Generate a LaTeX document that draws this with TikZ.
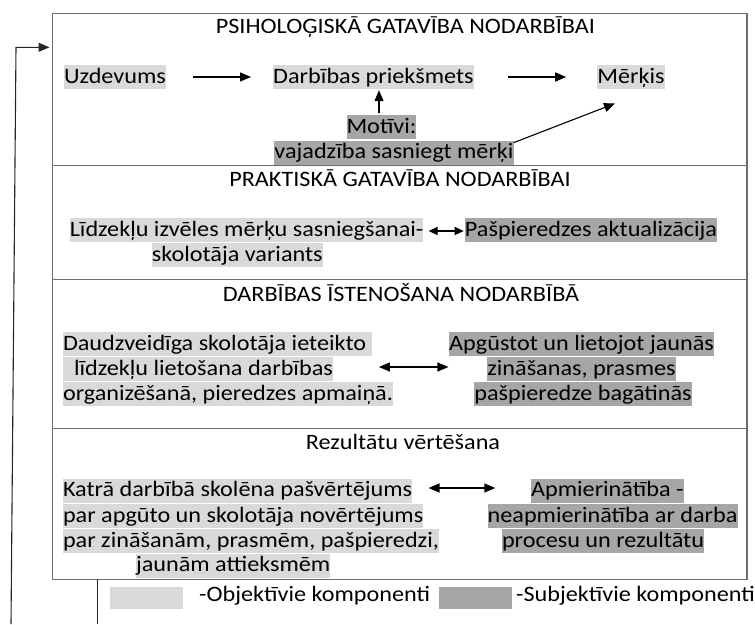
\documentclass[tikz,border=0pt]{standalone}
\usepackage{fontspec}
\setmainfont[FakeStretch=1.10]{Carlito}
\usetikzlibrary{arrows.meta}
\definecolor{objc}{HTML}{D9D9D9}
\definecolor{subjc}{HTML}{A6A6A6}
\definecolor{framec}{HTML}{6E6E6E}
\tikzset{
  txt/.style={inner xsep=0pt, inner ysep=0pt, text height=18pt, text depth=6pt,
    font=\fontsize{22pt}{25pt}\selectfont},
  obj/.style={txt, fill=objc},
  subj/.style={txt, fill=subjc},
  arr/.style={-{Triangle[length=11pt,width=9pt]}, line width=1.1pt},
  darr/.style={{Triangle[length=11pt,width=9pt]}-{Triangle[length=11pt,width=9pt]}, line width=1.1pt},
  darrs/.style={{Triangle[length=9pt,width=8pt]}-{Triangle[length=9pt,width=8pt]}, line width=1.1pt},
  frame/.style={draw=framec, line width=1.4pt},
  fbline/.style={draw=black!85, line width=1.1pt},
  swatch/.style={inner sep=0pt, minimum width=73pt, minimum height=22pt},
}
\begin{document}
\begin{tikzpicture}[x=1pt,y=-1pt]
\useasboundingbox (0,0) rectangle (755,624);
% frame and section dividers
\draw[frame] (52.7,13.3) rectangle (747,579.3);
\draw[frame] (52.7,165.7) -- (747,165.7);
\draw[frame] (52.7,279.3) -- (747,279.3);
\draw[frame] (52.7,428.3) -- (747,428.3);

% section 1
\node[txt] (t1) at (405.4,27.3) {PSIHOLOĢISKĀ GATAVĪBA NODARBĪBAI};
\node[obj] (uzd) at (115,77) {Uzdevums};
\node[obj] (darb) at (373.4,77) {Darbības priekšmets};
\node[obj] (merkis) at (631,77) {Mērķis};
\node[subj] (motivi) at (381.5,127.2) {Motīvi:};
\node[subj] (vaj) at (394,152.8) {vajadzība sasniegt mērķi};

\draw[arr, shorten <=27pt, shorten >=22pt] (uzd) -- (darb);
\draw[arr, shorten <=34.3pt, shorten >=31pt] (darb) -- (merkis);
\coordinate (upS) at ([xshift=-2.5pt,yshift=2.3pt]motivi.north);
\coordinate (upE) at (upS |- darb.south);
\draw[arr, shorten >=1pt] (upS) -- (upE);
\draw[arr] ([yshift=-2pt]vaj.north east) -- ([xshift=-16pt,yshift=-14.3pt]merkis.south);

% section 2
\node[txt] (t2) at (400,180.7) {PRAKTISKĀ GATAVĪBA NODARBĪBAI};
\node[obj, anchor=west] (l21) at (69.6,230.2) {Līdzekļu izvēles mērķu sasniegšanai-};
\node[obj, anchor=west] (l22) at (151.7,255.4) {skolotāja variants};
\node[subj] (r21) at (591,230.2) {Pašpieredzes aktualizācija};
\draw[darrs, shorten <=5pt, shorten >=1pt] ([yshift=-0.8pt]l21.east) -- ([yshift=-0.8pt]r21.west);

% section 3
\node[txt] (t3) at (401,295.7) {DARBĪBAS ĪSTENOŠANA NODARBĪBĀ};
\node[obj, anchor=west] (l31) at (62.8,344.2) {Daudzveidīga skolotāja ieteikto\ \mbox{}};
\node[obj, anchor=west] (l32) at (62.8,369.3) {\hspace*{11pt}līdzekļu lietošana darbības};
\node[obj, anchor=west] (l33) at (62.8,394.3) {organizēšanā, pieredzes apmaiņā.};
\node[subj] (r31) at (581.6,344.2) {Apgūstot un lietojot jaunās};
\node[subj] (r32) at (581.5,369.3) {zināšanas, prasmes};
\node[subj] (r33) at (583,394.3) {pašpieredze bagātinās};
\draw[darr, shorten <=45.7pt, shorten >=38.7pt] ([yshift=2.3pt]l32.east) -- ([yshift=2.3pt]r32.west);

% section 4
\node[txt] (t4) at (403,443.7) {Rezultātu vērtēšana};
\node[obj, anchor=west] (l41) at (62.8,490.8) {Katrā darbībā skolēna pašvērtējums};
\node[obj, anchor=west] (l42) at (62.8,516) {par apgūto un skolotāja novērtējums};
\node[obj, anchor=west] (l43) at (62.8,541) {par zināšanām, prasmēm, pašpieredzi,};
\node[obj, anchor=west] (l44) at (135.8,565.5) {jaunām attieksmēm};
\node[subj] (r41) at (607.3,490.8) {Apmierinātība -};
\node[subj] (r42) at (612.6,516) {neapmierinātība ar darba};
\node[subj] (r43) at (603,541) {procesu un rezultātu};
\draw[darr, shorten <=16.2pt, shorten >=35.6pt] ([yshift=2.8pt]l41.east) -- ([yshift=2.8pt]r41.west);

% feedback lines
\coordinate (fbA) at (11,624);
\coordinate (fbB) at (16,47.3);
\coordinate (fbC) at (49.5,47.3);
\draw[arr, draw=black!85] (fbA) -- (fbB) -- (fbC);
\coordinate (fbD) at (97.7,579.3);
\coordinate (fbE) at (97.7,624);
\draw[fbline] (fbD) -- (fbE);

% legend
\node[swatch, fill=objc] (sw1) at (146.7,597.8) {};
\node[txt, anchor=west] (lg1) at (199,595) {-Objektīvie komponenti};
\node[swatch, fill=subjc] (sw2) at (475.4,597.8) {};
\node[txt, anchor=west] (lg2) at (516,595) {-Subjektīvie komponenti};
\end{tikzpicture}
\end{document}
